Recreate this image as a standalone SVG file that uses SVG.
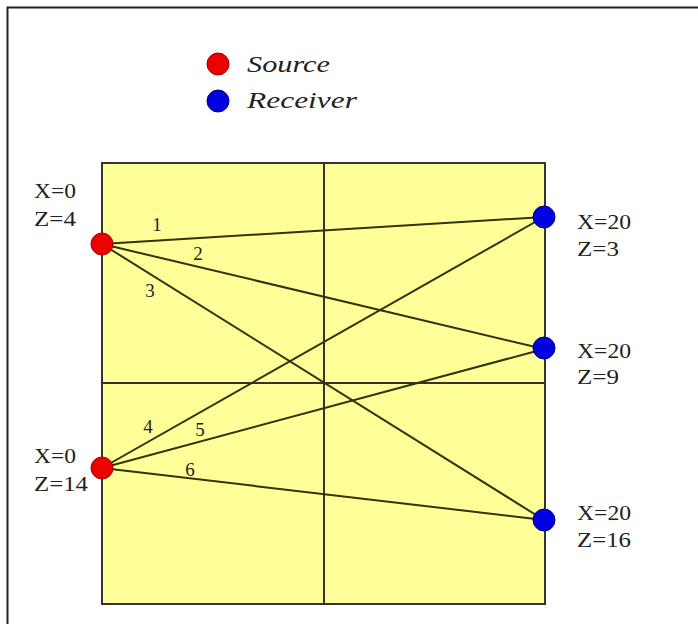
<svg xmlns="http://www.w3.org/2000/svg" width="698" height="624" viewBox="0 0 698 624">
<style>
.lbl{font-family:"Liberation Serif","Times New Roman",serif;font-size:21px;fill:#222}
.num{font-family:"Liberation Serif","Times New Roman",serif;font-size:19px;fill:#222;text-anchor:middle}
.leg{font-family:"Liberation Serif","Times New Roman",serif;font-style:italic;font-size:24px;fill:#222}
.ray{stroke:#333300;stroke-width:2;fill:none}
.src{fill:#ee0000;stroke:#990000;stroke-width:1}
.rcv{fill:#0000e0;stroke:#000088;stroke-width:1}
.grid{stroke:#333;stroke-width:2}
</style>
<rect x="0" y="0" width="698" height="624" fill="#ffffff"/>
<path d="M7.5 624 V7.5 H698" stroke="#222" stroke-width="2" fill="none"/>
<g id="legend">
<circle class="src" cx="218" cy="64" r="11"/>
<text class="leg" x="247" y="72" textLength="83" lengthAdjust="spacingAndGlyphs">Source</text>
<circle class="rcv" cx="218" cy="101" r="11"/>
<text class="leg" x="247" y="108" textLength="110" lengthAdjust="spacingAndGlyphs">Receiver</text>
</g>
<g id="model">
<rect x="102" y="163" width="443" height="441" fill="#ffff99" class="grid"/>
<line class="grid" x1="324" y1="163" x2="324" y2="604"/>
<line class="grid" x1="102" y1="383" x2="545" y2="383"/>
</g>
<g id="rays">
<line class="ray" x1="102" y1="244" x2="544" y2="217"/>
<line class="ray" x1="102" y1="244" x2="544" y2="349"/>
<line class="ray" x1="102" y1="244" x2="544" y2="520"/>
<line class="ray" x1="102" y1="468" x2="544" y2="217"/>
<line class="ray" x1="102" y1="468" x2="544" y2="349"/>
<line class="ray" x1="102" y1="468" x2="544" y2="520"/>
<text class="num" x="157" y="231">1</text>
<text class="num" x="198" y="260">2</text>
<text class="num" x="150" y="297">3</text>
<text class="num" x="148" y="433">4</text>
<text class="num" x="200" y="436">5</text>
<text class="num" x="190" y="476">6</text>
</g>
<g id="source1">
<circle class="src" cx="102" cy="244" r="11"/>
<text class="lbl" x="34" y="198" textLength="42" lengthAdjust="spacingAndGlyphs">X=0</text>
<text class="lbl" x="34" y="226" textLength="42" lengthAdjust="spacingAndGlyphs">Z=4</text>
</g>
<g id="source2">
<circle class="src" cx="102" cy="468" r="11"/>
<text class="lbl" x="34" y="463" textLength="42" lengthAdjust="spacingAndGlyphs">X=0</text>
<text class="lbl" x="34" y="491" textLength="54" lengthAdjust="spacingAndGlyphs">Z=14</text>
</g>
<g id="receiver1">
<circle class="rcv" cx="544" cy="217" r="11"/>
<text class="lbl" x="577" y="229" textLength="54" lengthAdjust="spacingAndGlyphs">X=20</text>
<text class="lbl" x="577" y="256" textLength="42" lengthAdjust="spacingAndGlyphs">Z=3</text>
</g>
<g id="receiver2">
<circle class="rcv" cx="544" cy="348" r="11"/>
<text class="lbl" x="577" y="358" textLength="54" lengthAdjust="spacingAndGlyphs">X=20</text>
<text class="lbl" x="577" y="384" textLength="42" lengthAdjust="spacingAndGlyphs">Z=9</text>
</g>
<g id="receiver3">
<circle class="rcv" cx="544" cy="520" r="11"/>
<text class="lbl" x="577" y="520" textLength="54" lengthAdjust="spacingAndGlyphs">X=20</text>
<text class="lbl" x="577" y="547" textLength="54" lengthAdjust="spacingAndGlyphs">Z=16</text>
</g>
</svg>
